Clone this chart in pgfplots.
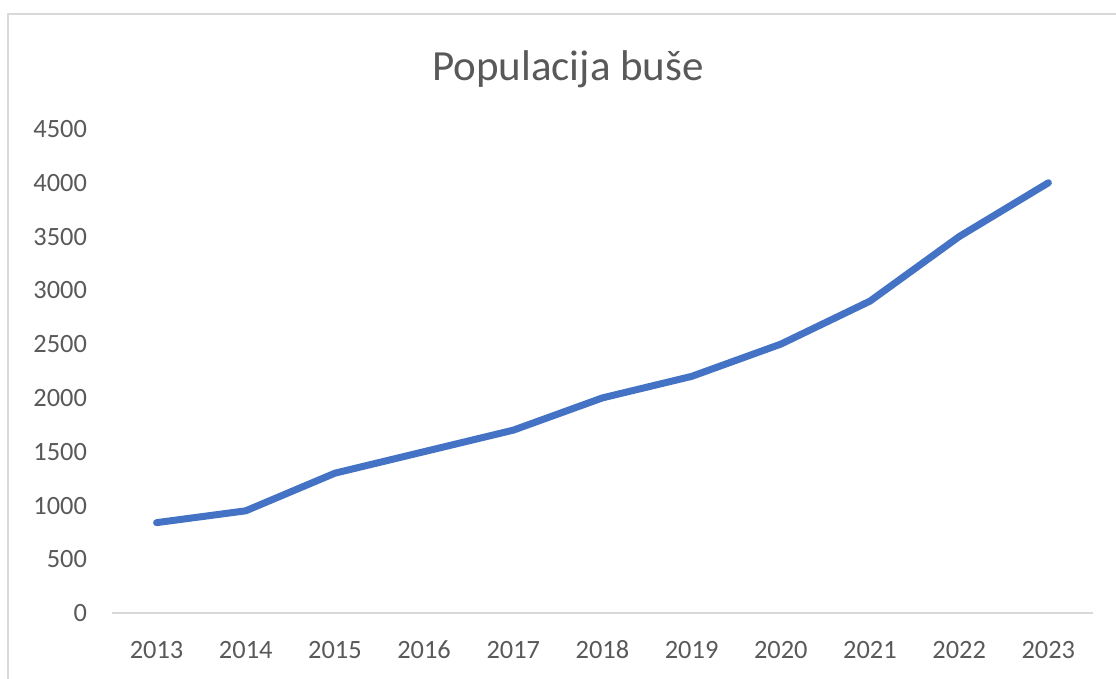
\documentclass[border=0pt]{standalone}
\usepackage{pgfplots}
\pgfplotsset{compat=1.18}
\usepackage{fontspec}
\setmainfont{Carlito}
\definecolor{lineblue}{HTML}{4472C4}
\definecolor{txtgray}{HTML}{595959}
\definecolor{axgray}{HTML}{D9D9D9}
\begin{document}
\begin{tikzpicture}
\useasboundingbox (-56pt,-33pt) rectangle (502pt,306.5pt);
\draw[axgray, line width=1.2pt] (-52pt,-40pt) -- (-52pt,299.5pt) -- (510pt,299.5pt);
\begin{axis}[
  at={(0pt,0pt)}, anchor=south west,
  scale only axis,
  width=490.5pt, height=242pt,
  xmin=2012.5, xmax=2023.5,
  ymin=0, ymax=4500,
  xtick={2013,...,2023},
  ytick={0,500,...,4500},
  xticklabel style={/pgf/number format/1000 sep={}},
  yticklabel style={/pgf/number format/1000 sep={}},
  /pgf/number format/assume math mode=true,
  tick label style={font=\fontsize{13.2pt}{15pt}\selectfont, text=txtgray, text height=8.6pt, text depth=0pt},
  axis line style={draw=none},
  axis x line*=bottom,
  axis y line*=left,
  major tick length=0pt,
  yticklabel style={xshift=-9pt},
  xticklabel style={yshift=-10.5pt},
  clip=false,
]
\draw[axgray, line width=0.8pt] (axis cs:2012.5,0) -- (axis cs:2023.5,0);
\addplot[lineblue, line width=3.5pt, line join=round, line cap=round] coordinates {
(2013,840) (2014,950) (2015,1300) (2016,1500) (2017,1700) (2018,2000)
(2019,2200) (2020,2500) (2021,2900) (2022,3500) (2023,4000)
};
\end{axis}
\node[text=txtgray, font=\fontsize{21.5pt}{24pt}\selectfont] at (228pt,272pt) {Populacija buše};
\end{tikzpicture}
\end{document}
